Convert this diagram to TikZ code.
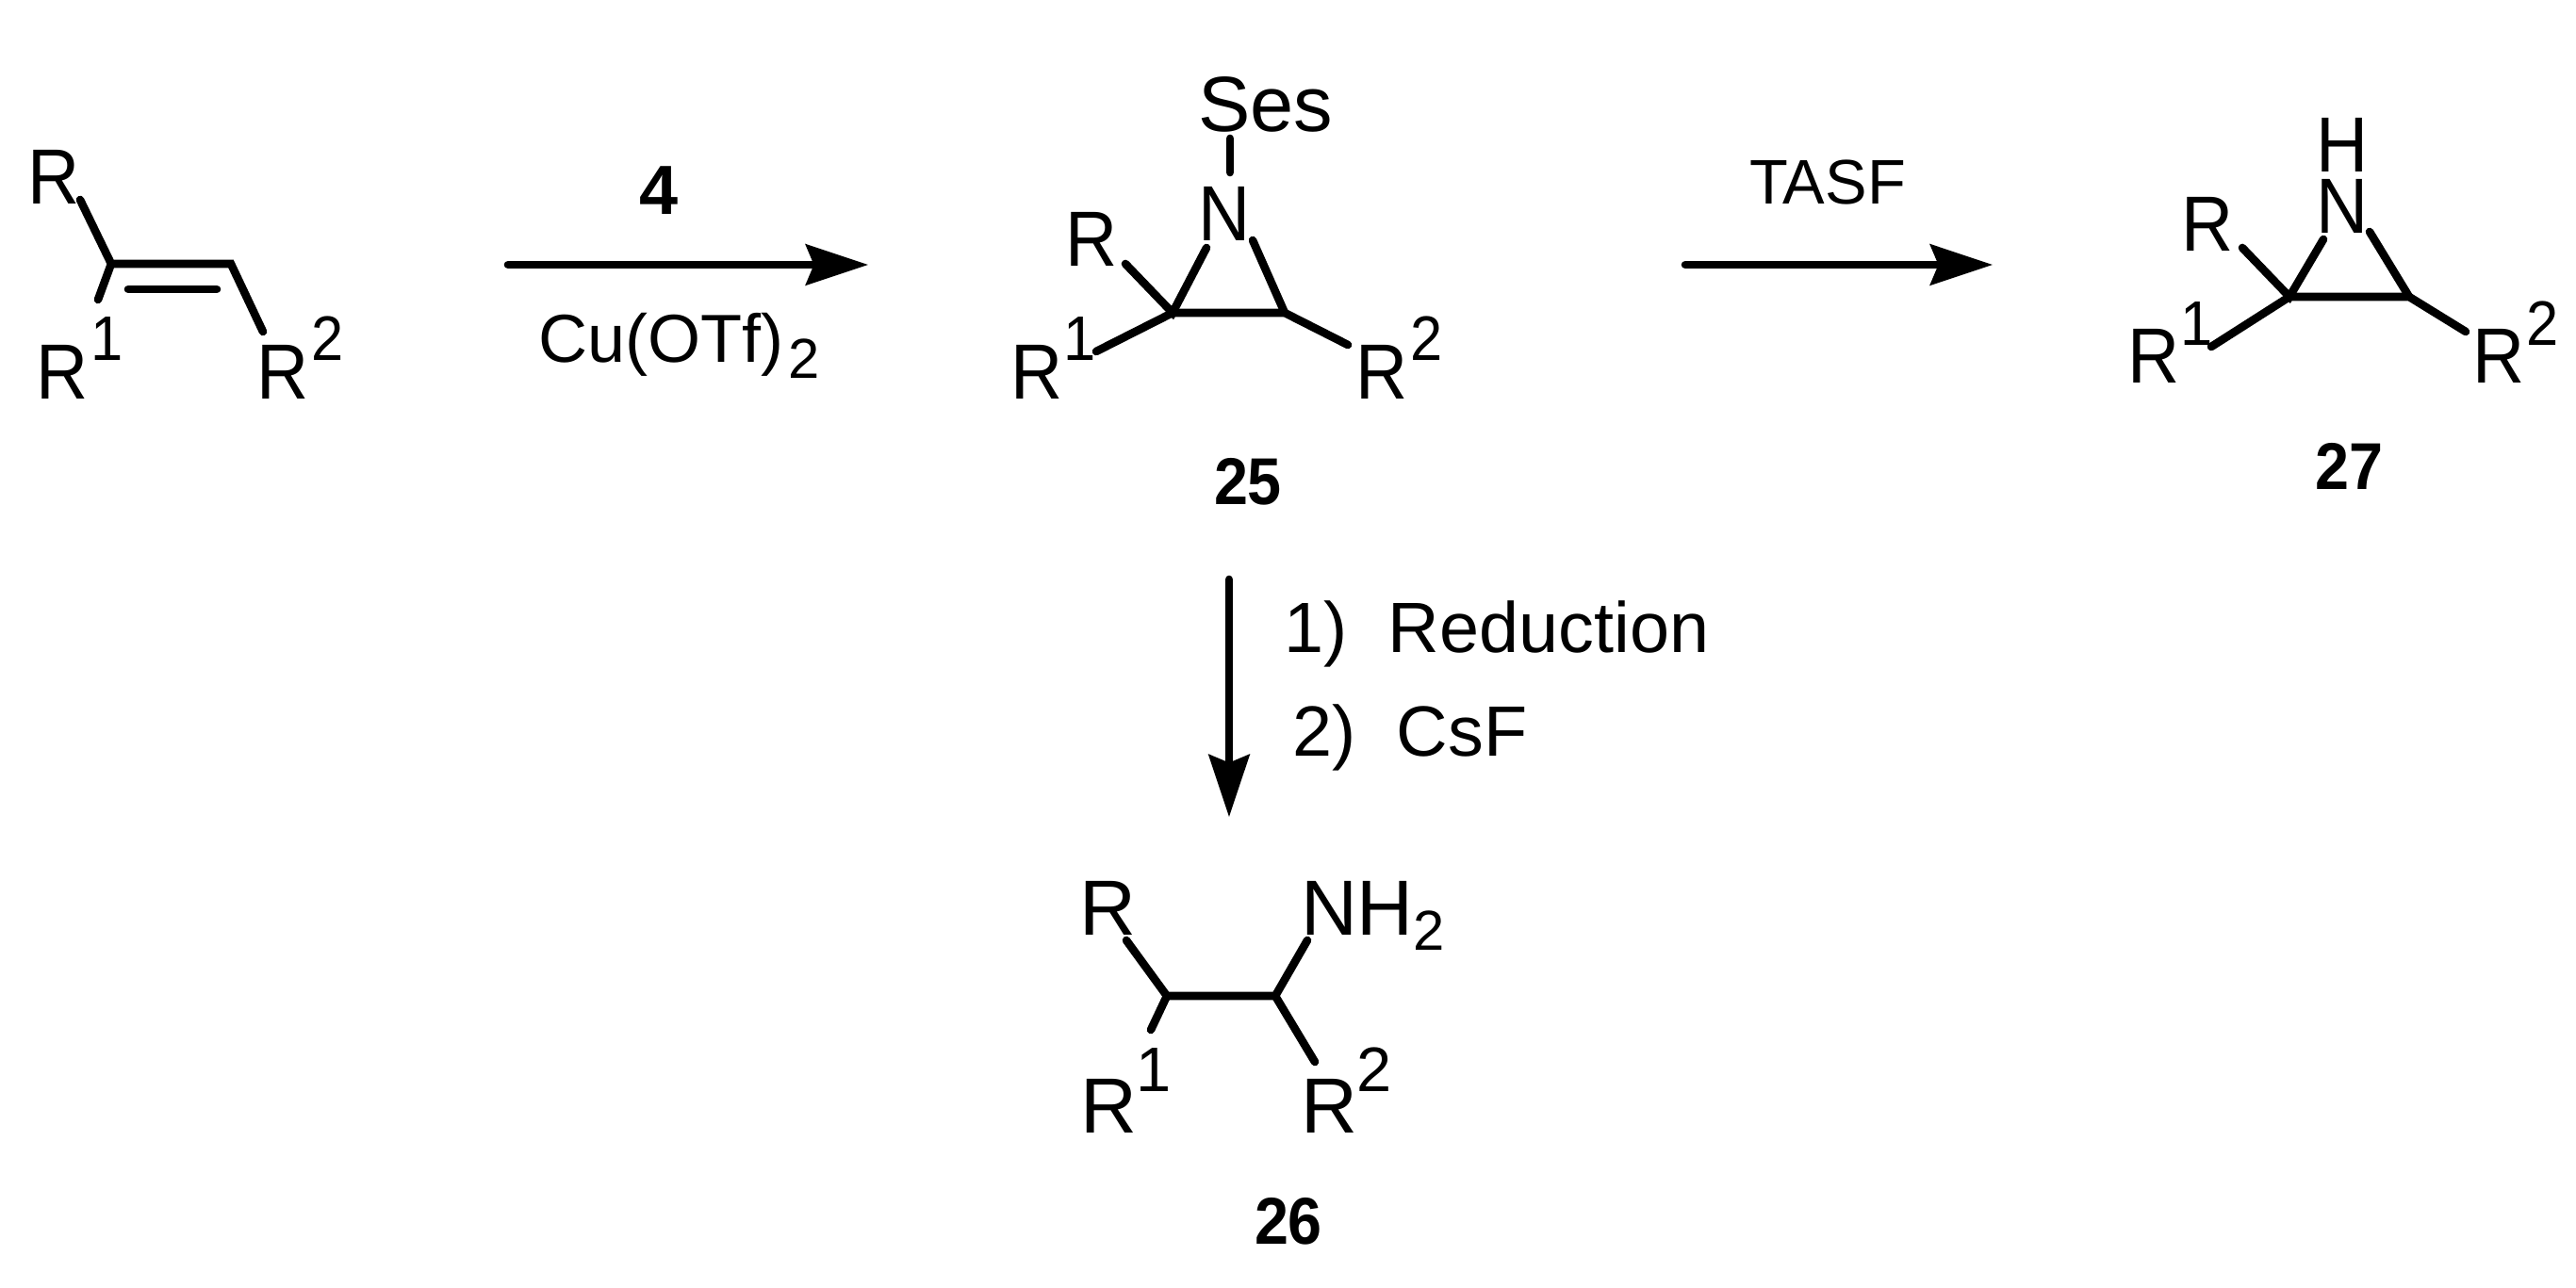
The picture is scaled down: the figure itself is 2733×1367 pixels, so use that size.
\documentclass[tikz,border=0pt]{standalone}
\usepackage{fontspec}
\setmainfont{Liberation Sans}
\newfontfamily\narrowfont[FakeStretch=0.92]{Liberation Sans}
\newfontfamily\narrowbold[FakeStretch=0.92]{Liberation Sans Bold}
\usetikzlibrary{arrows.meta}
\newcommand{\Rsup}[3]{R\kern#2pt\raisebox{#3pt}{\fontsize{19}{19}\selectfont #1}}
\newcommand{\subtwo}[1]{\kern#1pt\raisebox{-4.7pt}{\fontsize{17}{17}\selectfont 2}}
\tikzset{
  lbl/.style={anchor=base west,inner sep=0pt,outer sep=0pt,font=\fontsize{23.6}{24}\selectfont},
  toplbl/.style={lbl,font=\fontsize{23.6}{24}\narrowfont},
  cond/.style={lbl,font=\fontsize{21.5}{24}\selectfont},
  cpd/.style={lbl,font=\fontsize{20}{24}\narrowbold},
  bond/.style={line width=2.45pt,line cap=round,line join=miter},
  rxn/.style={bond,-{Stealth[length=18.8pt,width=12.2pt,inset=2.4pt,sep=2.5pt]}}
}
\begin{document}
\begin{tikzpicture}[x=0.01cm,y=-0.01cm]
\useasboundingbox (0,0) rectangle (2733,1367);
\fill[white] (0,0) rectangle (2733,1367);

% alkene
\node[toplbl] (aR) at (30,217) {R};
\node[toplbl] (aR1) at (38,424) {\Rsup{1}{1}{11.7}};
\node[toplbl] (aR2) at (272,424) {\Rsup{2}{1}{11.7}};
\coordinate (aC1) at (118,280);
\coordinate (aC2) at (245,280);
\coordinate (aRb) at (85,212);
\coordinate (aR1b) at (104,318);
\coordinate (aR2b) at (279,352);
\coordinate (aDa) at (136,307);
\coordinate (aDb) at (230,307);
\draw[bond] (aRb) -- (aC1) -- (aC2) -- (aR2b);
\draw[bond] (aC1) -- (aR1b);
\draw[bond] (aDa) -- (aDb);

% arrow 1
\coordinate (r1a) at (539,281);
\coordinate (r1b) at (930,281);
\draw[rxn] (r1a) -- (r1b);
\node[lbl,font=\fontsize{21}{24}\bfseries] (four) at (678,228) {4};
\node[lbl,font=\fontsize{20.5}{24}\selectfont] (cu) at (571,385) {Cu(OTf)\subtwo{1.4}};

% 25
\node[lbl] (bS) at (1271,140) {Ses};
\node[toplbl] (bN) at (1271,256) {N};
\node[toplbl] (bR) at (1130,283) {R};
\node[toplbl] (bR1) at (1072,424) {\Rsup{1}{0.4}{11.7}};
\node[toplbl] (bR2) at (1438,424) {\Rsup{2}{1}{11.7}};
\coordinate (bC1) at (1244,332);
\coordinate (bC2) at (1363,332);
\coordinate (bSa) at (1305,147);
\coordinate (bSb) at (1305,183);
\coordinate (bN1) at (1280,263);
\coordinate (bN2) at (1329,255);
\coordinate (bRb) at (1194,280);
\coordinate (bR1b) at (1163,373);
\coordinate (bR2b) at (1430,366);
\draw[bond] (bSa) -- (bSb);
\draw[bond] (bRb) -- (bC1) -- (bN1);
\draw[bond] (bR1b) -- (bC1) -- (bC2) -- (bR2b);
\draw[bond] (bC2) -- (bN2);
\node[cpd] (c25) at (1288,536) {25};

% arrow 2
\coordinate (r2a) at (1788,281);
\coordinate (r2b) at (2123,281);
\draw[rxn] (r2a) -- (r2b);
\node[lbl,font=\fontsize{19}{24}\selectfont] (tasf) at (1856,217) {TASF};

% 27
\node[toplbl] (cH) at (2457,183) {H};
\node[toplbl] (cN) at (2457,248) {N};
\node[toplbl] (cR) at (2314,267) {R};
\node[toplbl] (cR1) at (2257,407) {\Rsup{1}{0.4}{11.4}};
\node[toplbl] (cR2) at (2623,407) {\Rsup{2}{0.7}{11.4}};
\coordinate (cC1) at (2429,315);
\coordinate (cC2) at (2556,315);
\coordinate (cN1) at (2465,254);
\coordinate (cN2) at (2514,246);
\coordinate (cRb) at (2379,263);
\coordinate (cR1b) at (2346,368);
\coordinate (cR2b) at (2616,352);
\draw[bond] (cRb) -- (cC1) -- (cN1);
\draw[bond] (cR1b) -- (cC1) -- (cC2) -- (cR2b);
\draw[bond] (cC2) -- (cN2);
\node[cpd] (c27) at (2456,519) {27};

% arrow 3
\coordinate (r3a) at (1304,615);
\coordinate (r3b) at (1304,876);
\draw[rxn] (r3a) -- (r3b);
\node[cond] (step1) at (1362,692) {1)\hspace{12.4pt}Reduction};
\node[cond] (step2) at (1371,802) {2)\hspace{12.4pt}CsF};

% 26
\node[lbl] (dR) at (1145,992) {R};
\node[lbl] (dN) at (1380,992) {NH\subtwo{0}};
\node[lbl] (dR1) at (1146,1202) {\Rsup{1}{0}{12.5}};
\node[lbl] (dR2) at (1380,1202) {\Rsup{2}{-0.1}{12.5}};
\coordinate (dC1) at (1238,1057);
\coordinate (dC2) at (1353,1057);
\coordinate (dRb) at (1195,998);
\coordinate (dR1b) at (1221,1093);
\coordinate (dNb) at (1387,998);
\coordinate (dR2b) at (1395,1127);
\draw[bond] (dRb) -- (dC1) -- (dC2) -- (dNb);
\draw[bond] (dC1) -- (dR1b);
\draw[bond] (dC2) -- (dR2b);
\node[cpd] (c26) at (1331,1320) {26};
\end{tikzpicture}
\end{document}
